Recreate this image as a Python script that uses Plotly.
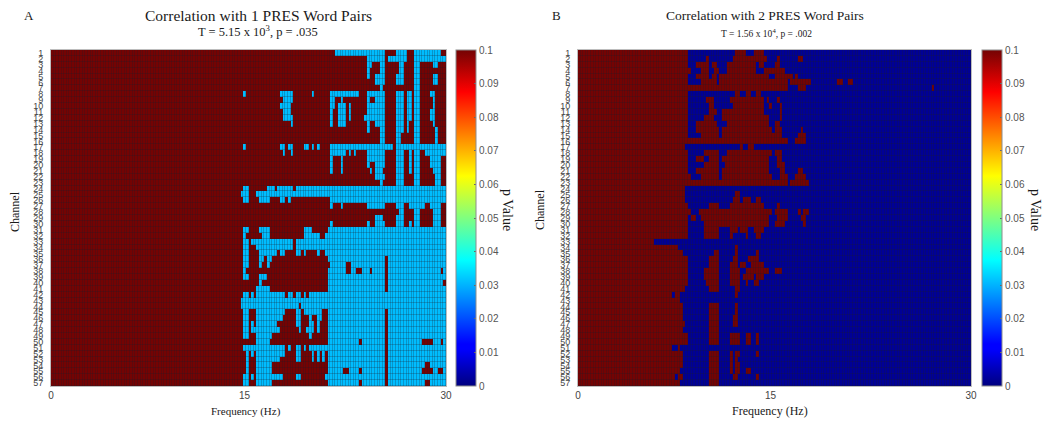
"""Channel by frequency p-value maps for 1 and 2 PRES word pairs."""

import numpy as np
import plotly.graph_objects as go

N_BINS = 150  # 0-30 Hz, 0.2 Hz per bin
N_CHANNELS = 57
BIN_HZ = 0.2

# Panel A: runs of significant bins (start, stop) per channel, the rest is p >= .1
sig_runs_a = [
    [(108, 127), (131, 135), (138, 148)],
    [(120, 127), (128, 135), (138, 150)],
    [(120, 122), (125, 127), (132, 134), (138, 140), (145, 147)],
    [(120, 121), (125, 127), (132, 134), (138, 140)],
    [(120, 121), (123, 127), (131, 134), (138, 140), (145, 147)],
    [(123, 127), (131, 134), (138, 140), (145, 147)],
    [(125, 126), (138, 140)],
    [(73, 74), (87, 92), (99, 100), (106, 117), (120, 127), (131, 134), (135, 137), (138, 140), (144, 146)],
    [(88, 92), (106, 108), (110, 111), (120, 121), (123, 127), (131, 134), (135, 137), (138, 140), (145, 146)],
    [(87, 91), (106, 108), (109, 112), (113, 114), (120, 127), (131, 134), (135, 137), (138, 140), (145, 146)],
    [(88, 91), (106, 107), (109, 112), (113, 114), (120, 127), (131, 134), (135, 137), (138, 140), (144, 146)],
    [(88, 92), (106, 107), (109, 112), (113, 114), (119, 127), (131, 134), (135, 137), (138, 140), (144, 146)],
    [(91, 92), (106, 107), (109, 112), (120, 121), (123, 127), (131, 134), (135, 136), (138, 140), (145, 146)],
    [(120, 121), (125, 127), (131, 134), (135, 136), (138, 140), (146, 147)],
    [(125, 127), (131, 133), (138, 140), (146, 147)],
    [(125, 127), (131, 133), (138, 140), (146, 147)],
    [(73, 74), (87, 89), (90, 92), (96, 98), (99, 100), (101, 102), (106, 130), (131, 150)],
    [(88, 89), (91, 92), (106, 112), (113, 114), (115, 116), (120, 127), (131, 134), (136, 137), (138, 140), (142, 150)],
    [(106, 107), (110, 111), (120, 127), (131, 134), (136, 137), (138, 140), (144, 148)],
    [(106, 107), (110, 111), (120, 121), (123, 127), (131, 134), (136, 137), (138, 140), (144, 148)],
    [(106, 107), (110, 111), (121, 122), (123, 126), (131, 134), (136, 137), (138, 140), (145, 148)],
    [(123, 127), (131, 134), (138, 140), (146, 148)],
    [(125, 126), (131, 134), (138, 140), (146, 148)],
    [(73, 75), (82, 85), (86, 92), (93, 150)],
    [(72, 75), (78, 150)],
    [(73, 75), (79, 83), (87, 89), (90, 91), (106, 150)],
    [(106, 107), (110, 111), (120, 127), (131, 134), (136, 142), (144, 148)],
    [(132, 134), (138, 140), (145, 148)],
    [(123, 126), (131, 134), (138, 140), (145, 148)],
    [(106, 107), (120, 121), (123, 127), (131, 134), (136, 137), (138, 140), (145, 148)],
    [(73, 75), (79, 83), (96, 99), (105, 150)],
    [(73, 74), (80, 83), (96, 102), (104, 150)],
    [(73, 75), (76, 92), (93, 150)],
    [(73, 75), (78, 92), (93, 150)],
    [(73, 75), (79, 86), (87, 89), (93, 95), (96, 97), (101, 102), (104, 150)],
    [(73, 75), (79, 81), (82, 84), (105, 127), (128, 150)],
    [(73, 75), (79, 80), (82, 83), (106, 112), (114, 127), (128, 150)],
    [(73, 74), (105, 112), (114, 116), (118, 121), (122, 127), (128, 148), (149, 150)],
    [(73, 75), (79, 82), (105, 127), (128, 150)],
    [(79, 80), (105, 127), (128, 149)],
    [(78, 83), (105, 127), (128, 150)],
    [(73, 75), (76, 77), (78, 89), (90, 92), (93, 95), (96, 97), (98, 150)],
    [(72, 150)],
    [(72, 94), (95, 150)],
    [(73, 75), (78, 89), (93, 95), (96, 103), (105, 127), (128, 150)],
    [(73, 75), (78, 88), (93, 95), (98, 99), (101, 103), (105, 127), (128, 150)],
    [(73, 75), (76, 77), (78, 86), (93, 95), (98, 100), (101, 102), (105, 127), (128, 150)],
    [(73, 75), (76, 87), (94, 95), (97, 100), (101, 102), (105, 127), (128, 150)],
    [(73, 75), (78, 84), (98, 99), (105, 127), (128, 150)],
    [(78, 83), (105, 117), (118, 127), (128, 141), (145, 148), (149, 150)],
    [(73, 89), (90, 91), (93, 95), (96, 97), (98, 127), (128, 150)],
    [(74, 75), (76, 77), (78, 89), (93, 95), (99, 100), (101, 102), (103, 104), (105, 127), (128, 150)],
    [(74, 75), (78, 87), (93, 95), (99, 100), (101, 102), (103, 104), (105, 127), (128, 150)],
    [(74, 75), (78, 84), (105, 127), (128, 142), (144, 150)],
    [(74, 75), (78, 84), (105, 111), (113, 117), (118, 127), (128, 141), (145, 147), (149, 150)],
    [(73, 75), (76, 77), (78, 88), (93, 95), (104, 127), (128, 150)],
    [(73, 75), (78, 84), (105, 117), (118, 127), (128, 142), (144, 150)],
]

# Panel B: runs of non-significant bins per channel, the rest is significant
nonsig_runs_b = [
    [(0, 42), (60, 64), (67, 71)],
    [(0, 42), (49, 50), (59, 72), (76, 77), (84, 86)],
    [(0, 42), (45, 50), (51, 53), (57, 68), (69, 71), (75, 77)],
    [(0, 43), (47, 50), (52, 54), (57, 68), (71, 79)],
    [(0, 42), (45, 50), (51, 53), (54, 73), (75, 82), (83, 84)],
    [(0, 42), (47, 53), (54, 80), (81, 89), (99, 101), (103, 105)],
    [(0, 80), (84, 87), (135, 136)],
    [(0, 42), (60, 62), (64, 66), (68, 70)],
    [(0, 42), (49, 52), (58, 71), (72, 73), (76, 77)],
    [(0, 42), (50, 52), (59, 71), (73, 74), (77, 78)],
    [(0, 42), (50, 53), (55, 71), (77, 78)],
    [(0, 42), (48, 52), (55, 73), (77, 78)],
    [(0, 42), (45, 53), (57, 73), (75, 77)],
    [(0, 42), (45, 54), (55, 74), (75, 78), (85, 86)],
    [(0, 42), (47, 54), (55, 78), (84, 87)],
    [(0, 80), (83, 87)],
    [(0, 41), (62, 63), (65, 67)],
    [(0, 42), (48, 54), (57, 74), (75, 78)],
    [(0, 42), (45, 48), (50, 54), (55, 73), (76, 78)],
    [(0, 42), (48, 54), (56, 73), (76, 79)],
    [(0, 42), (45, 54), (55, 73), (77, 79), (84, 86)],
    [(0, 43), (47, 54), (55, 74), (77, 80), (83, 87)],
    [(0, 80), (81, 88)],
    [(0, 41)],
    [(0, 41), (60, 62)],
    [(0, 41), (59, 62), (63, 66), (68, 70)],
    [(0, 42), (50, 54), (58, 71), (76, 77)],
    [(0, 43), (46, 74), (75, 80), (84, 85), (86, 88)],
    [(0, 42), (43, 45), (47, 73), (76, 80), (85, 87)],
    [(0, 42), (48, 73), (75, 79), (86, 87)],
    [(0, 42), (48, 54), (58, 61), (62, 65), (67, 71)],
    [(0, 42), (48, 54), (58, 59), (64, 65), (68, 70)],
    [(0, 29)],
    [(0, 38), (60, 61)],
    [(0, 40), (52, 54), (60, 61), (68, 69)],
    [(0, 42), (50, 54), (59, 61), (65, 69)],
    [(0, 42), (50, 54), (58, 61), (62, 64), (66, 71)],
    [(0, 42), (48, 54), (58, 62), (64, 73), (75, 78)],
    [(0, 42), (48, 54), (58, 62), (63, 67), (68, 71)],
    [(0, 42), (49, 54), (58, 62), (64, 65), (67, 69)],
    [(0, 41), (50, 54), (60, 62)],
    [(0, 36), (37, 39), (60, 61)],
    [(0, 39)],
    [(0, 40), (50, 54), (60, 61)],
    [(0, 40), (50, 54), (60, 61)],
    [(0, 40), (50, 54), (59, 61)],
    [(0, 41), (50, 54), (59, 61)],
    [(0, 40), (50, 54)],
    [(0, 42), (50, 54), (58, 62), (64, 66), (68, 69)],
    [(0, 42), (50, 54), (58, 62), (64, 66), (68, 69)],
    [(0, 36), (38, 39)],
    [(0, 40), (50, 54), (58, 59), (60, 62), (68, 69)],
    [(0, 40), (50, 54), (58, 59), (60, 61)],
    [(0, 40), (50, 54), (58, 59), (60, 62)],
    [(0, 39), (50, 54), (58, 59), (60, 62), (64, 66)],
    [(0, 37), (38, 40), (50, 54), (59, 61), (68, 69)],
    [(0, 39), (50, 54)],
]

p_cutoff = 0.1
p_sig_a = 0.031
p_sig_b = 0.002
freq_tick_vals = [0, 14.7, 30]
freq_tick_text = ["0", "15", "30"]
cbar_ticks = [0, 0.01, 0.02, 0.03, 0.04, 0.05, 0.06, 0.07, 0.08, 0.09, 0.1]
cbar_tick_text = ["0", "0.01", "0.02", "0.03", "0.04", "0.05", "0.06", "0.07", "0.08", "0.09", "0.1"]

# The page keeps its default 8 px body margin, so the figure starts at (8, 8)
PAGE_MARGIN = 8
WIDTH, HEIGHT = 1050 - PAGE_MARGIN, 422 - PAGE_MARGIN
TOP, BOTTOM = 50 - PAGE_MARGIN, 386 - PAGE_MARGIN
SERIF = "Liberation Serif"
SANS = "Liberation Sans"

JET = [
    [0.0, "#00007f"],
    [0.11, "#0000ff"],
    [0.125, "#0000ff"],
    [0.375, "#00ffff"],
    [0.625, "#ffff00"],
    [0.875, "#ff0000"],
    [1.0, "#740303"],
]


def fill_grid(runs, inside, outside):
    """Expand per-channel bin runs into a channel x frequency matrix."""
    grid = np.full((N_CHANNELS, N_BINS), outside, dtype=float)
    for row, channel_runs in enumerate(runs):
        for start, stop in channel_runs:
            grid[row, start:stop] = inside
    return grid


def px_x(x):
    return (x - PAGE_MARGIN) / WIDTH


def px_y(y):
    return 1 - (y - PAGE_MARGIN - TOP) / (BOTTOM - TOP)


freq = [(i + 0.5) * BIN_HZ for i in range(N_BINS)]
channels = list(range(1, N_CHANNELS + 1))

fig = go.Figure()


def add_panel(z, xaxis, yaxis, cbar_left):
    fig.add_trace(
        go.Heatmap(
            z=z,
            x=freq,
            y=channels,
            xaxis=xaxis,
            yaxis=yaxis,
            zmin=0,
            zmax=p_cutoff,
            colorscale=JET,
            xgap=0.25,
            ygap=0.25,
            colorbar=dict(
                x=px_x(cbar_left),
                xanchor="left",
                y=0.5,
                yanchor="middle",
                len=1,
                thickness=20,
                xpad=0,
                ypad=0,
                outlinecolor="#8c8c8c",
                outlinewidth=1,
                tickmode="array",
                tickvals=cbar_ticks,
                ticktext=cbar_tick_text,
                ticks="inside",
                ticklen=2,
                tickcolor="#666666",
                tickfont=dict(family=SANS, size=10, color="#555555"),
            ),
        )
    )


add_panel(fill_grid(sig_runs_a, p_sig_a, p_cutoff), "x", "y", 456)
add_panel(fill_grid(nonsig_runs_b, p_cutoff, p_sig_b), "x2", "y2", 982)

axis_x = dict(
    range=[0, 30],
    tickmode="array",
    tickvals=freq_tick_vals,
    ticktext=freq_tick_text,
    ticks="",
    tickfont=dict(family=SANS, size=10, color="#444444"),
    showgrid=False,
    zeroline=False,
    showline=True,
    linecolor="#bdbdbd",
    linewidth=1,
    mirror=True,
)
axis_y = dict(
    range=[N_CHANNELS + 0.5, 0.5],
    tickmode="array",
    tickvals=channels,
    ticktext=[str(c) for c in channels],
    ticks="outside",
    ticklen=5,
    tickcolor="rgba(0,0,0,0)",
    tickfont=dict(family=SANS, size=9, color="#444444"),
    showgrid=False,
    zeroline=False,
    showline=True,
    linecolor="#bdbdbd",
    linewidth=1,
    mirror=True,
)


def label(text, x, y, size, angle=0):
    return dict(
        text=text,
        x=px_x(x),
        y=px_y(y),
        xref="paper",
        yref="paper",
        xanchor="center",
        yanchor="middle",
        showarrow=False,
        textangle=angle,
        font=dict(family=SERIF, size=size, color="#1a1a1a"),
    )


fig.update_layout(
    width=WIDTH,
    height=HEIGHT,
    margin=dict(l=0, r=0, t=TOP, b=HEIGHT - BOTTOM, pad=0, autoexpand=False),
    paper_bgcolor="white",
    plot_bgcolor="#1c1c2a",
    xaxis=dict(axis_x, domain=[px_x(51), px_x(446)], anchor="y"),
    yaxis=dict(axis_y, domain=[0, 1], anchor="x"),
    xaxis2=dict(axis_x, domain=[px_x(578), px_x(971)], anchor="y2"),
    yaxis2=dict(axis_y, domain=[0, 1], anchor="x2"),
    annotations=[
        label("A", 29, 16, 13),
        label("Correlation with 1 PRES Word Pairs", 258, 16, 15.5),
        label("T = 5.15 x 10<sup>3</sup>, p = .035", 258, 31, 12.5),
        label("Frequency (Hz)", 246, 411, 11),
        label("Channel", 15, 212, 12, -90),
        label("p Value", 508, 210, 14, 90),
        label("B", 556, 16, 13),
        label("Correlation with 2 PRES Word Pairs", 765, 16, 13.5),
        label("T = 1.56 x 10<sup>4</sup>, p = .002", 766, 33, 9.5),
        label("Frequency (Hz)", 770, 411, 12),
        label("Channel", 540, 210, 12, -90),
        label("p Value", 1036, 210, 14, 90),
    ],
)

fig.write_html("out.html")
